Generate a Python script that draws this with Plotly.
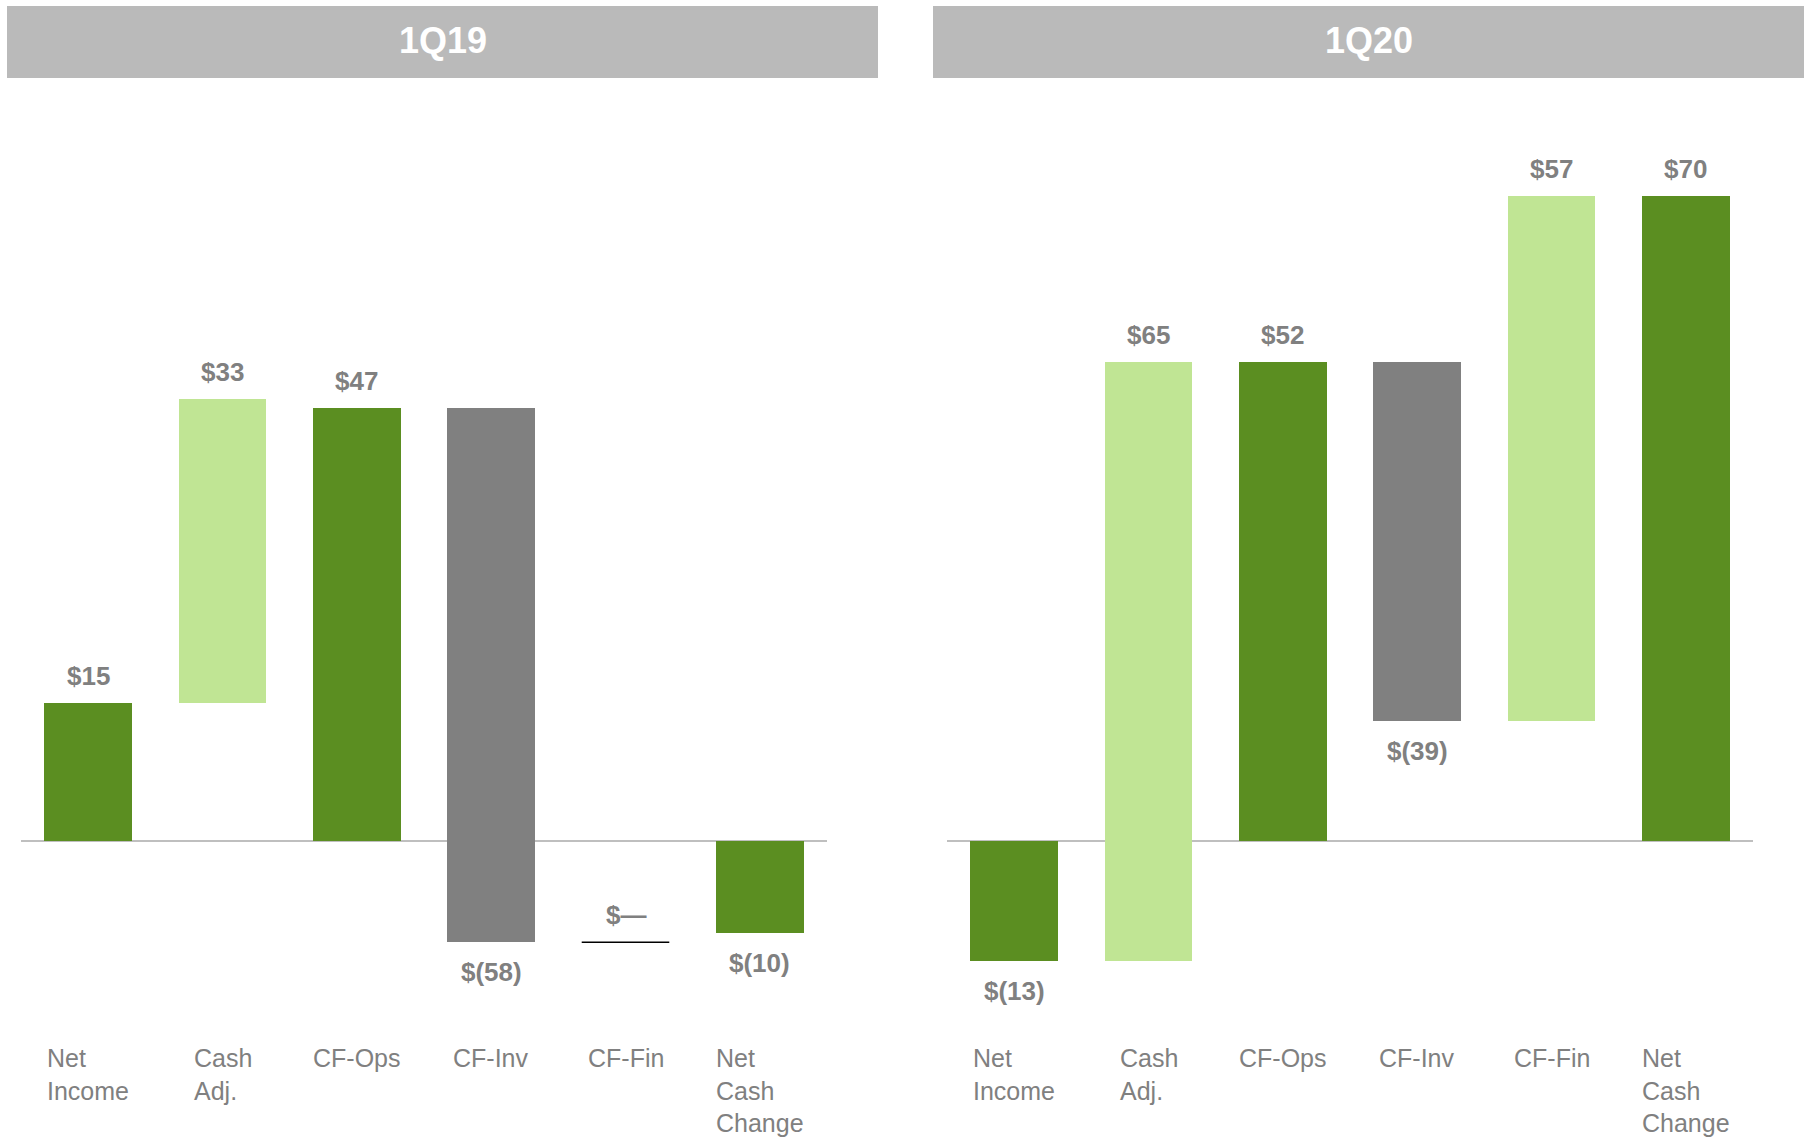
import plotly.graph_objects as go

# ---- data ----
categories = ["Net Income", "Cash Adj.", "CF-Ops", "CF-Inv", "CF-Fin", "Net Cash Change"]
category_labels = ["Net<br>Income", "Cash<br>Adj.", "CF-Ops", "CF-Inv", "CF-Fin", "Net<br>Cash<br>Change"]
kinds = ["total", "delta", "total", "delta", "delta", "total"]

periods = ["1Q19", "1Q20"]
values_1q19 = [15, 33, 47, -58, 0, -10]
values_1q20 = [-13, 65, 52, -39, 57, 70]
period_values = [values_1q19, values_1q20]

DARK_GREEN = "#5b8e21"
LIGHT_GREEN = "#c0e594"
GRAY_BAR = "#808080"
TEXT_GRAY = "#808080"
HEADER_GRAY = "#bababa"
FONT = "Arial, Liberation Sans, sans-serif"

W, H = 1806, 1140
PX_PER_UNIT = 9.21
ZERO_PX = 841
y_range = [-(H - ZERO_PX) / PX_PER_UNIT, ZERO_PX / PX_PER_UNIT]
x_domains = [[21 / W, 827 / W], [947 / W, 1753 / W]]
header_x = [[7 / W, 878 / W], [933 / W, 1804 / W]]
BAR_W = 0.652


def fmt(v):
    if v == 0:
        return "$—"
    if v < 0:
        return f"$({abs(v)})"
    return f"${v}"


fig = go.Figure()
annotations = []
shapes = []

for p, (period, vals) in enumerate(zip(periods, period_values)):
    xa = "x" if p == 0 else "x2"
    ya = "y" if p == 0 else "y2"
    bases = []
    running = 0
    for k, v in zip(kinds, vals):
        if k == "total":
            bases.append(0)
            running = v
        else:
            bases.append(running)
            running = running + v
    colors = []
    for k, v in zip(kinds, vals):
        if k == "total":
            colors.append(DARK_GREEN)
        elif v >= 0:
            colors.append(LIGHT_GREEN)
        else:
            colors.append(GRAY_BAR)
    fig.add_trace(go.Bar(
        x=list(range(len(categories))), y=vals, base=bases,
        marker=dict(color=colors, line=dict(width=0)),
        width=BAR_W, xaxis=xa, yaxis=ya, showlegend=False,
        hoverinfo="skip",
    ))
    for i, (v, b) in enumerate(zip(vals, bases)):
        if v == 0:
            shapes.append(dict(type="line", xref=xa, yref=ya,
                               x0=i - BAR_W / 2, x1=i + BAR_W / 2, y0=b, y1=b,
                               line=dict(color="black", width=1.5)))
            annotations.append(dict(x=i, y=b, xref=xa, yref=ya, text=fmt(v),
                                    showarrow=False, yshift=27, yanchor="middle",
                                    font=dict(family=FONT, size=26, color=TEXT_GRAY, weight="bold")))
        elif v > 0:
            annotations.append(dict(x=i, y=b + v, xref=xa, yref=ya, text=fmt(v),
                                    showarrow=False, yshift=27, yanchor="middle",
                                    font=dict(family=FONT, size=26, color=TEXT_GRAY, weight="bold")))
        else:
            annotations.append(dict(x=i, y=b + v, xref=xa, yref=ya, text=fmt(v),
                                    showarrow=False, yshift=-30, yanchor="middle",
                                    font=dict(family=FONT, size=26, color=TEXT_GRAY, weight="bold")))
    for i, lab in enumerate(category_labels):
        annotations.append(dict(x=i, y=1 - 1042 / H, xref=xa, yref="paper", text=lab,
                                showarrow=False, xanchor="center", yanchor="top", align="left",
                                font=dict(family=FONT, size=25, color=TEXT_GRAY)))
    # header
    shapes.append(dict(type="rect", xref="paper", yref="paper",
                       x0=header_x[p][0], x1=header_x[p][1],
                       y0=1 - 78 / H, y1=1 - 6 / H,
                       fillcolor=HEADER_GRAY, line=dict(width=0), layer="below"))
    annotations.append(dict(x=(header_x[p][0] + header_x[p][1]) / 2, y=1 - 40 / H,
                            xref="paper", yref="paper", text=period, showarrow=False,
                            xanchor="center", yanchor="middle",
                            font=dict(family=FONT, size=36, color="white", weight="bold")))

axis_common_x = dict(range=[-0.5, 5.5], showgrid=False, zeroline=False,
                     showticklabels=False, showline=False, ticks="")
axis_common_y = dict(range=y_range, showgrid=False, zeroline=True,
                     zerolinecolor="#bfbfbf", zerolinewidth=2,
                     showticklabels=False, showline=False, ticks="", domain=[0, 1])

fig.update_layout(
    width=W, height=H,
    margin=dict(l=0, r=0, t=0, b=0),
    paper_bgcolor="white", plot_bgcolor="white",
    xaxis=dict(domain=x_domains[0], anchor="y", **axis_common_x),
    xaxis2=dict(domain=x_domains[1], anchor="y2", **axis_common_x),
    yaxis=dict(anchor="x", **axis_common_y),
    yaxis2=dict(anchor="x2", **axis_common_y),
    annotations=annotations,
    shapes=shapes,
    bargap=0,
)

fig.write_html("out.html")
